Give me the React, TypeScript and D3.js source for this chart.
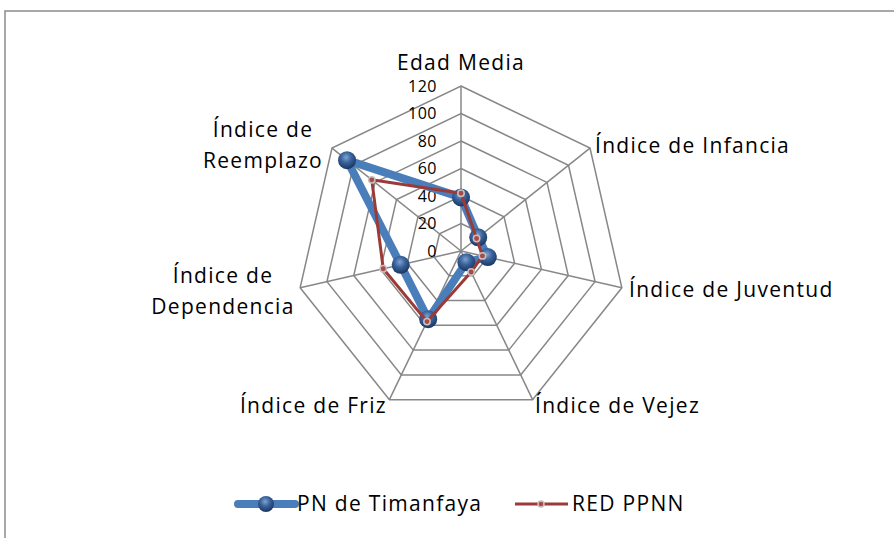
import React from "react";
import * as d3 from "d3";

const categories = [
  "Edad Media",
  "Índice de Infancia",
  "Índice de Juventud",
  "Índice de Vejez",
  "Índice de Friz",
  "Índice de Dependencia",
  "Índice de Reemplazo",
];
const seriesNames = ["PN de Timanfaya", "RED PPNN"];
const timanfaya = [39, 16, 20, 9, 55, 45, 106];
const redPPNN = [42, 14.5, 16, 17, 57, 58, 83];
const ticks = [0, 20, 40, 60, 80, 100, 120];

const labelLines = [
  ["Edad Media"],
  ["Índice de Infancia"],
  ["Índice de Juventud"],
  ["Índice de Vejez"],
  ["Índice de Friz"],
  ["Índice de", "Dependencia"],
  ["Índice de", "Reemplazo"],
];

const W = 894;
const H = 538;
const cx = 461;
const cy = 251;
const R = 165;
const FONT = "'Open Sans', Lato, sans-serif";
const LS = 1.3;
const FS = 21;

export default function App() {
  const r = d3.scaleLinear().domain([0, 120]).range([0, R]);
  const n = categories.length;
  const ang = d3.scaleLinear().domain([0, n]).range([0, 2 * Math.PI]);
  const pt = (i: number, v: number): [number, number] => [
    cx + r(v) * Math.sin(ang(i)),
    cy - r(v) * Math.cos(ang(i)),
  ];
  const closed = d3.line<[number, number]>().curve(d3.curveLinearClosed);
  const ringPath = (v: number) => closed(d3.range(n).map((i) => pt(i, v))) as string;
  const seriesPath = (vals: number[]) => closed(vals.map((v, i) => pt(i, v))) as string;

  const labelPos: { x: number; y: number; anchor: string }[] = [
    { x: 461, y: 70, anchor: "middle" },
    { x: 595, y: 153, anchor: "start" },
    { x: 629, y: 297, anchor: "start" },
    { x: 535, y: 413, anchor: "start" },
    { x: 387, y: 413, anchor: "end" },
    { x: 223, y: 283, anchor: "middle" },
    { x: 263, y: 137, anchor: "middle" },
  ];

  return (
    <svg width={W} height={H} style={{ position: "absolute", left: 0, top: 0, background: "#fff" }}>
      <defs>
        <radialGradient id="sphere" cx="45%" cy="35%" r="65%">
          <stop offset="0%" stopColor="#7fa3d3" />
          <stop offset="45%" stopColor="#3a649c" />
          <stop offset="100%" stopColor="#1a3560" />
        </radialGradient>
      </defs>
      <rect x={0} y={0} width={W} height={H} fill="#fff" />
      <path d={`M5,${H + 2} L5,11 L${W + 2},11`} fill="none" stroke="#8c8c8c" strokeWidth={1.5} />
      {ticks.slice(1).map((t) => (
        <path key={t} d={ringPath(t)} fill="none" stroke="#878787" strokeWidth={1.5} />
      ))}
      {d3.range(n).map((i) => {
        const [x, y] = pt(i, 120);
        return <line key={i} x1={cx} y1={cy} x2={x} y2={y} stroke="#878787" strokeWidth={1.5} />;
      })}
      {ticks.map((t) => (
        <text
          key={t}
          x={437}
          y={cy - r(t) + 1.5}
          textAnchor="end"
          dominantBaseline="middle"
          fontFamily={FONT}
          fontSize={16}
          letterSpacing={0.5}
          fill="#000"
        >
          {t}
        </text>
      ))}
      {labelLines.map((lines, i) => (
        <text
          key={i}
          x={labelPos[i].x}
          y={labelPos[i].y}
          textAnchor={labelPos[i].anchor as any}
          fontFamily={FONT}
          fontSize={FS}
          letterSpacing={LS}
          fill="#000"
        >
          {lines.map((l, j) => (
            <tspan key={j} x={labelPos[i].x} dy={j === 0 ? 0 : 31}>
              {l}
            </tspan>
          ))}
        </text>
      ))}
      <path d={seriesPath(timanfaya)} fill="none" stroke="#4a7ebb" strokeWidth={8} strokeLinejoin="round" />
      {timanfaya.map((v, i) => {
        const [x, y] = pt(i, v);
        return <circle key={i} cx={x} cy={y} r={9} fill="url(#sphere)" />;
      })}
      <path d={seriesPath(redPPNN)} fill="none" stroke="#9b3a37" strokeWidth={3} strokeLinejoin="round" />
      {redPPNN.map((v, i) => {
        const [x, y] = pt(i, v);
        return <circle key={i} cx={x} cy={y} r={3.2} fill="#a84a48" stroke="#c9c0c0" strokeWidth={1.5} />;
      })}
      <line x1={238} y1={504} x2={295} y2={504} stroke="#4a7ebb" strokeWidth={8} strokeLinecap="round" />
      <circle cx={266} cy={504} r={8} fill="url(#sphere)" />
      <text x={297} y={511} fontFamily={FONT} fontSize={FS} letterSpacing={LS} fill="#000">
        {seriesNames[0]}
      </text>
      <line x1={515} y1={504} x2={568} y2={504} stroke="#9b3a37" strokeWidth={3} />
      <circle cx={541} cy={504} r={3} fill="#a84a48" stroke="#c9c0c0" strokeWidth={1.5} />
      <text x={572} y={511} fontFamily={FONT} fontSize={FS} letterSpacing={LS} fill="#000">
        {seriesNames[1]}
      </text>
    </svg>
  );
}
